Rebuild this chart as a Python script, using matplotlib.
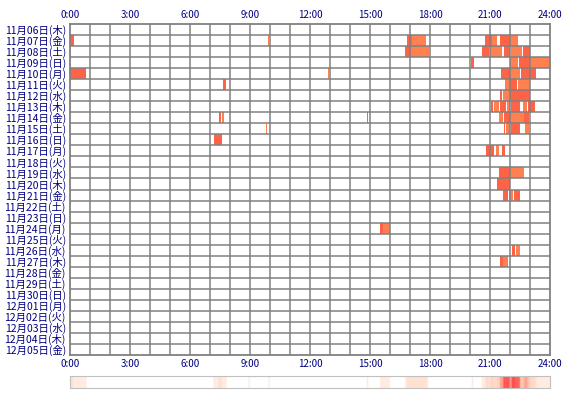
import numpy as np
import matplotlib.pyplot as plt
from matplotlib.colors import LinearSegmentedColormap, PowerNorm

plt.rcParams['font.family'] = ['Noto Sans CJK JP', 'DejaVu Sans']

dias = ['11月06日(木)', '11月07日(金)', '11月08日(土)', '11月09日(日)', '11月10日(月)',
        '11月11日(火)', '11月12日(水)', '11月13日(木)', '11月14日(金)', '11月15日(土)',
        '11月16日(日)', '11月17日(月)', '11月18日(火)', '11月19日(水)', '11月20日(木)',
        '11月21日(金)', '11月22日(土)', '11月23日(日)', '11月24日(月)', '11月25日(火)',
        '11月26日(水)', '11月27日(木)', '11月28日(金)', '11月29日(土)', '11月30日(日)',
        '12月01日(月)', '12月02日(火)', '12月03日(水)', '12月04日(木)', '12月05日(金)']

# atividade por dia: (inicio, fim) em horas
atividade = {
    1: [(0.0, 0.2), (9.9, 9.97), (16.85, 17.1), (17.1, 17.8), (20.75, 21.1), (21.1, 21.35),
        (21.5, 22.0), (22.0, 22.4)],
    2: [(16.75, 17.05), (17.05, 17.95), (20.6, 20.95), (21.0, 21.6), (21.7, 22.0),
        (22.05, 22.6), (22.65, 23.0)],
    3: [(20.05, 20.2), (22.0, 22.4), (22.45, 23.0), (23.0, 24.0)],
    4: [(0.0, 0.8), (12.9, 12.95), (21.55, 22.0), (22.0, 22.5), (22.55, 23.3)],
    5: [(7.65, 7.8), (21.75, 22.0), (22.0, 22.35), (22.4, 23.0)],
    6: [(21.5, 21.6), (21.65, 22.0), (22.0, 23.0)],
    7: [(21.05, 21.15), (21.2, 21.45), (21.5, 21.8), (21.85, 22.0), (22.05, 22.5),
        (22.65, 22.85), (22.9, 23.25)],
    8: [(7.45, 7.55), (7.6, 7.68), (14.85, 14.9), (21.45, 21.65), (21.7, 22.0),
        (22.0, 22.7), (22.7, 22.95)],
    9: [(8.95, 9.0), (9.8, 9.85), (21.7, 21.75), (21.8, 22.0), (22.05, 22.5),
        (22.75, 22.95)],
    10: [(7.2, 7.6)],
    11: [(20.8, 21.2), (21.3, 21.45), (21.6, 21.75)],
    13: [(21.45, 22.0), (22.0, 22.7)],
    14: [(21.35, 22.0)],
    15: [(21.65, 21.9), (21.95, 22.15), (22.2, 22.5)],
    18: [(15.5, 15.65), (15.65, 16.0)],
    20: [(22.1, 22.25), (22.3, 22.5)],
    21: [(21.5, 21.65), (21.65, 21.9)],
}

cores = ['#ff6347', '#ff8050']
txt = '#000080'
borda = '#808080'

fig = plt.figure(figsize=(5.7, 4.0), dpi=100)
ax = fig.add_axes([70/570, 1 - 355/400, 480/570, 331/400])
n = len(dias)
for i, segs in atividade.items():
    for k, (a, b) in enumerate(segs):
        ax.broken_barh([(a, b - a)], (i, 1), facecolors=cores[k % 2], edgecolor='none')

ax.set_xlim(0, 24)
ax.set_ylim(n, 0)
ax.set_xticks(range(0, 25, 3))
ax.set_xticklabels([f'{h}:00' for h in range(0, 25, 3)], color=txt, fontsize=7)
ax.set_yticks(np.arange(n) + 0.5)
ax.set_yticklabels(dias, color=txt, fontsize=7.5)
ax.tick_params(which='both', length=0, pad=3)
ax.tick_params(axis='x', labeltop=True)
for h in range(1, 24):
    ax.axvline(h, color=borda, lw=1.1)
for r in range(1, n):
    ax.axhline(r, color=borda, lw=1.1)
for s in ax.spines.values():
    s.set_color(borda)
    s.set_linewidth(1.3)

# faixa de densidade
res = 288
dens = np.zeros(res)
t = (np.arange(res) + 0.5) * 24 / res
for segs in atividade.values():
    for a, b in segs:
        dens += (t >= a) & (t < b)
cmap = LinearSegmentedColormap.from_list('c', ['#ffffff', '#ffe2d2', '#ffc8b0', '#ff5050'])
ax2 = fig.add_axes([70/570, 1 - 388/400, 480/570, 12/400])
ax2.imshow(dens[None, :], aspect='auto', cmap=cmap, extent=(0, 24, 0, 1),
           norm=PowerNorm(0.6, vmin=0, vmax=dens.max()), interpolation='bilinear')
ax2.set_xticks([])
ax2.set_yticks([])
for s in ax2.spines.values():
    s.set_color('#c0c0c0')

fig.savefig('out.png', dpi=100)
